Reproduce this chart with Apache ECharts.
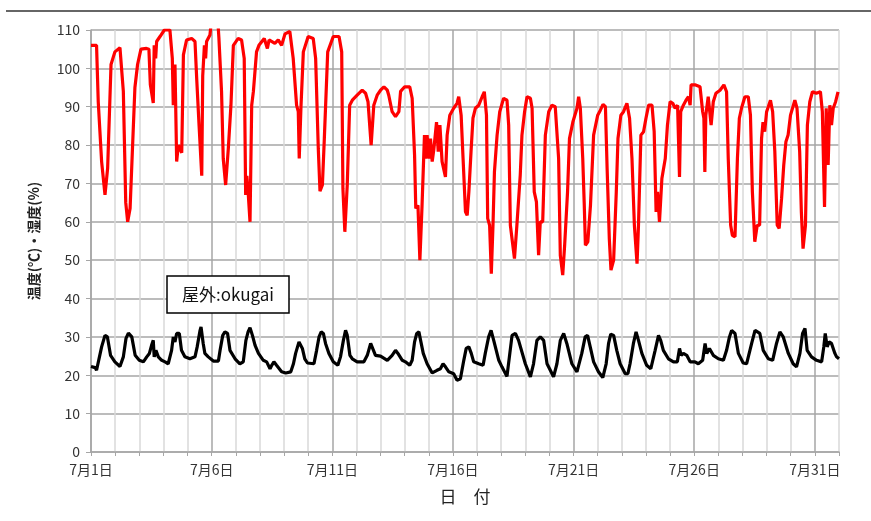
<!DOCTYPE html>
<html><head><meta charset="utf-8">
<script src="https://cdn.jsdelivr.net/npm/echarts@6/dist/echarts.min.js"></script>
<style>html,body{margin:0;padding:0;background:#fff}#c{width:871px;height:521px}</style>
</head><body><div id="c"></div>
<script>
// x = days since 7/1 0:00
const dayTicks = [0,5,10,15,20,25,30];
const yTicks = [0,10,20,30,40,50,60,70,80,90,100,110];
const humT = [0,0.23,0.3,0.44,0.58,0.69,0.83,0.99,1.2,1.34,1.44,1.52,1.62,1.82,1.93,2.07,2.3,2.4,2.46,2.58,2.62,2.68,2.72,2.86,3.04,3.27,3.37,3.41,3.48,3.55,3.62,3.76,3.83,3.96,4.17,4.31,4.38,4.48,4.59,4.63,4.7,4.75,4.79,4.93,5.0,5.25,5.3,5.41,5.48,5.58,5.69,5.8,5.9,6.1,6.24,6.35,6.41,6.46,6.52,6.59,6.66,6.73,6.86,6.96,7.18,7.31,7.38,7.62,7.76,7.9,8.04,8.24,8.38,8.52,8.59,8.63,8.7,8.8,9.0,9.21,9.31,9.42,9.49,9.59,9.67,9.81,10.04,10.28,10.39,10.44,10.52,10.62,10.72,10.83,11.03,11.24,11.38,11.48,11.61,11.72,11.86,12.0,12.14,12.28,12.34,12.48,12.62,12.76,12.83,13.0,13.21,13.31,13.41,13.46,13.55,13.63,13.72,13.82,13.86,13.93,14.0,14.07,14.14,14.21,14.32,14.39,14.46,14.55,14.69,14.76,14.87,15.03,15.17,15.24,15.34,15.42,15.52,15.59,15.66,15.75,15.83,15.93,16.07,16.21,16.3,16.39,16.44,16.52,16.59,16.66,16.72,16.83,16.94,17.1,17.24,17.31,17.38,17.55,17.65,17.79,17.86,17.97,18.07,18.21,18.28,18.37,18.46,18.55,18.62,18.72,18.83,18.97,19.1,19.24,19.38,19.45,19.55,19.63,19.75,19.83,19.97,20.14,20.21,20.28,20.38,20.44,20.49,20.59,20.7,20.83,21.0,21.11,21.22,21.32,21.39,21.48,21.55,21.66,21.77,21.84,21.96,22.07,22.21,22.32,22.42,22.52,22.63,22.69,22.79,22.9,23.0,23.11,23.25,23.34,23.42,23.48,23.56,23.66,23.8,23.89,24.0,24.11,24.21,24.31,24.39,24.44,24.55,24.66,24.76,24.83,24.87,25.03,25.24,25.35,25.4,25.44,25.48,25.58,25.7,25.79,25.9,26.07,26.23,26.34,26.41,26.51,26.58,26.69,26.79,26.87,26.96,27.1,27.24,27.33,27.41,27.51,27.61,27.71,27.79,27.85,27.92,28.0,28.16,28.25,28.34,28.44,28.52,28.62,28.71,28.8,28.89,28.99,29.17,29.26,29.37,29.44,29.51,29.61,29.69,29.79,29.9,30.06,30.23,30.31,30.4,30.47,30.55,30.62,30.69,30.76,30.86,30.96];
const humV = [106,106,91.3,75.7,67,74,101,104.3,105.4,94,65,60,63.5,95,101,105,105.2,105,95.7,91,106,102.6,107,108.3,110,110,102.6,90.4,101,75.7,80,78,103.5,107.4,107.8,107,97.4,85,72,98,106,102.6,107,108.7,113,113,108,94,76.5,69.6,79,90.4,106,107.8,107.4,102.6,67,72,67,60,90.4,94,104.3,106,107.8,105.2,107.4,106.5,107.4,106,109,109.6,102.6,90.4,88.7,76.5,89.6,104.3,108.3,107.8,102.6,79,68,69.6,81.7,104.3,108.3,108.3,104.3,68.7,57.4,69.6,90.4,91.7,93,94.3,93.5,91.3,80,90.4,93,94.3,95.2,94.3,93,88.7,87.4,88.7,94,95.2,95.2,92.2,77.4,63.5,64.3,50,64.3,82.6,76.5,82.6,76.5,81.7,75.7,79,86,78.3,85.2,75.7,71.7,82.6,87.8,89.6,90.9,92.6,87.8,76.5,62.6,61.7,67.8,78.3,87,89.6,90.4,92.6,93.9,87.8,60.9,59.1,46.5,59.1,73,82.6,88.7,92.2,91.7,85.2,59.1,50.4,59.1,72.2,82.6,88.7,92.6,92.2,89.6,67.8,65.2,51.3,60,60,82.6,88.7,90.4,90,76.5,51.3,46.1,53.9,67.8,81.7,86,89.6,92.6,89.6,76.5,65,53.9,54.8,64.3,82.6,87.8,89.1,90.6,90,73.9,55.7,47.4,50,67.8,81.7,87.8,88.7,90.9,87,76.5,59.1,49.1,59.1,82.6,83.5,87,90.4,90.4,83.5,62.6,67.8,60,71.3,76.5,85.2,91.3,90.9,89.6,90.4,71.7,88.7,90.4,91.7,92.6,90.4,95.7,95.7,95.2,88.7,87,73,87.8,92.6,85.2,91.3,93.5,94.3,95.7,93.9,76.5,59.1,56.5,56.1,76.5,87,89.6,92.6,92.6,87.8,67.8,54.8,59.1,59.1,81.7,86,83.5,88.7,91.7,88.7,78.3,59.1,58.3,66.1,74.8,80.9,82.6,87.8,91.7,89.6,78.3,62.6,53,59.1,85.2,91.3,93.9,93.5,93.9,88.7,63.9,89.6,74.8,90.4,85.2,89.6,91.3,93.9];
const tempT = [0,0.17,0.23,0.35,0.44,0.58,0.68,0.81,0.99,1.2,1.34,1.45,1.55,1.69,1.83,2.0,2.17,2.31,2.42,2.51,2.58,2.62,2.69,2.79,2.93,3.07,3.2,3.34,3.41,3.48,3.55,3.66,3.75,3.89,4.1,4.31,4.4,4.52,4.56,4.65,4.72,4.86,5.07,5.28,5.35,5.46,5.55,5.66,5.76,5.97,6.17,6.31,6.42,6.51,6.59,6.69,6.8,6.94,7.14,7.28,7.42,7.49,7.58,7.69,7.9,8.07,8.28,8.39,8.48,8.62,8.69,8.76,8.86,8.97,9.24,9.35,9.45,9.54,9.63,9.72,9.86,10.04,10.23,10.34,10.46,10.55,10.62,10.73,10.83,11.03,11.31,11.45,11.59,11.66,11.79,12.0,12.28,12.48,12.62,12.72,12.9,13.03,13.21,13.31,13.41,13.5,13.59,13.66,13.77,13.93,14.14,14.34,14.48,14.59,14.69,14.83,15.03,15.17,15.31,15.45,15.55,15.66,15.76,15.86,16.07,16.25,16.34,16.48,16.58,16.69,16.9,17.03,17.24,17.45,17.59,17.72,18.0,18.21,18.34,18.48,18.62,18.76,18.9,19.17,19.31,19.45,19.59,19.72,19.93,20.14,20.34,20.48,20.58,20.69,20.83,21.03,21.21,21.35,21.45,21.54,21.66,21.79,21.93,22.14,22.25,22.34,22.48,22.59,22.69,22.83,23.03,23.2,23.38,23.52,23.61,23.72,23.93,24.14,24.3,24.39,24.46,24.55,24.69,24.83,25.03,25.17,25.35,25.45,25.52,25.63,25.79,26.0,26.21,26.34,26.46,26.55,26.69,26.83,27.03,27.17,27.38,27.52,27.72,27.86,28.07,28.25,28.41,28.55,28.69,28.9,29.1,29.24,29.38,29.49,29.59,29.68,29.86,30.07,30.28,30.37,30.43,30.51,30.59,30.69,30.83,30.9,31.0];
const tempV = [22.3,22,21.3,24.8,27.4,30.4,30,25.2,23.5,22.3,24.8,29.6,31,30,25.2,23.9,23.5,24.8,25.7,27.8,29.1,24.8,26.5,24.8,23.9,23.5,23,26.5,30,28.7,30.9,30.9,26.5,24.8,24.3,24.8,27.4,31.7,32.6,28.3,25.7,24.8,23.7,23.7,26.5,30.4,31.3,30.9,26.5,24.3,23,23.5,29.1,31.3,32.4,30.4,27.8,25.7,23.9,23.5,21.7,22.6,23.5,22.6,20.9,20.6,20.9,23,25.7,28.7,29.1,27,24.3,23.2,23,26.5,30,31.3,30.9,28.3,25.7,23.5,22.6,24.8,29.1,31.7,30.4,25.2,24.3,23.5,23.5,25.2,28.3,27.8,25.2,25,23.9,25.2,26.5,25.7,23.9,23.5,22.6,23.9,28.7,30.9,31.3,29.1,25.7,23,20.6,21.3,21.7,23,22.2,20.9,20.4,18.7,19.1,23.9,27,27.4,25.7,23.5,23,22.6,25.7,30,31.7,29.1,23.9,22.2,19.7,30.4,30.9,29.1,23,19.6,23,29.1,30,29.1,23,19.6,23,29.1,30.9,28.3,23,20.9,25.7,30,30.4,27.4,23.5,20.9,19.4,23,28.3,30.7,30.4,26.5,23,20.4,20.4,23,28.3,31.3,29.1,25.7,22.6,21.7,26.5,30.4,29.1,26.5,24.3,23.5,23.5,27,25.2,25.7,25.2,23.5,23.5,23,23.9,28.3,25.7,27,25.2,24.3,23.9,26.5,30,31.7,30.9,25.7,23.2,23,28.3,31.7,30.9,26.5,24.3,23.9,28.3,31.3,30,25.7,23,22.2,25.7,30.9,32.2,26.5,24.8,23.9,23.5,27.4,30.9,27.4,28.7,28.3,25.7,24.8,24.3];

const zip = (t, v) => t.map((x, i) => [x, v[i]]);
const font = '"Noto Sans CJK JP", "Noto Sans", sans-serif';
const chart = echarts.init(document.getElementById('c'), null, {renderer: 'canvas'});
chart.setOption({
  animation: false,
  backgroundColor: '#fff',
  grid: {left: 91, right: 32, top: 30, bottom: 69, containLabel: false, outerBoundsMode: 'none'},
  xAxis: {
    type: 'value', min: 0, max: 31, interval: 1,
    name: '日　付', nameLocation: 'middle', nameGap: 36,
    nameTextStyle: {fontFamily: font, fontSize: 17, color: '#222'},
    axisLine: {show: true, lineStyle: {color: '#a6a6a6', width: 1.5}},
    axisTick: {show: true, length: 4, lineStyle: {color: '#a6a6a6'}},
    axisLabel: {
      fontFamily: font, fontSize: 14, color: '#333', margin: 11,
      formatter: v => dayTicks.includes(v) ? '7月' + (v + 1) + '日' : ''
    },
    splitLine: {show: true, lineStyle: {color: ['#a6a6a6', '#d9d9d9', '#d9d9d9', '#d9d9d9', '#d9d9d9'], width: 1.5}}
  },
  yAxis: {
    type: 'value', min: yTicks[0], max: yTicks[yTicks.length - 1], interval: 10,
    name: '温度(℃)・湿度(%)', nameLocation: 'middle', nameGap: 50, nameRotate: 90,
    nameTextStyle: {fontFamily: font, fontSize: 14, fontWeight: 'bold', color: '#222'},
    axisLine: {show: true, lineStyle: {color: '#a6a6a6', width: 1.5}},
    axisTick: {show: true, length: 5, lineStyle: {color: '#a6a6a6'}},
    axisLabel: {fontFamily: font, fontSize: 14, color: '#333', margin: 11},
    splitLine: {show: true, lineStyle: {color: '#a6a6a6', width: 1.5}}
  },
  series: [
    {type: 'line', name: '湿度', data: zip(humT, humV), showSymbol: false, smooth: false,
     lineStyle: {color: '#ff0000', width: 3.2}, itemStyle: {color: '#ff0000'}, clip: true},
    {type: 'line', name: '温度', data: zip(tempT, tempV), showSymbol: false, smooth: false,
     lineStyle: {color: '#000', width: 3.2}, itemStyle: {color: '#000'}, clip: true}
  ],
  graphic: [
    {type: 'line', shape: {x1: 6, y1: 11, x2: 871, y2: 11}, style: {stroke: '#333', lineWidth: 1.5}},
    {type: 'rect', shape: {x: 167, y: 276, width: 122, height: 37}, style: {fill: '#fff', stroke: '#000', lineWidth: 1.5}, z: 10},
    {type: 'text', x: 228, y: 294.5, style: {text: '屋外:okugai', font: '17px ' + font, fill: '#111', align: 'center', verticalAlign: 'middle'}, z: 11}
  ]
});
</script></body></html>
